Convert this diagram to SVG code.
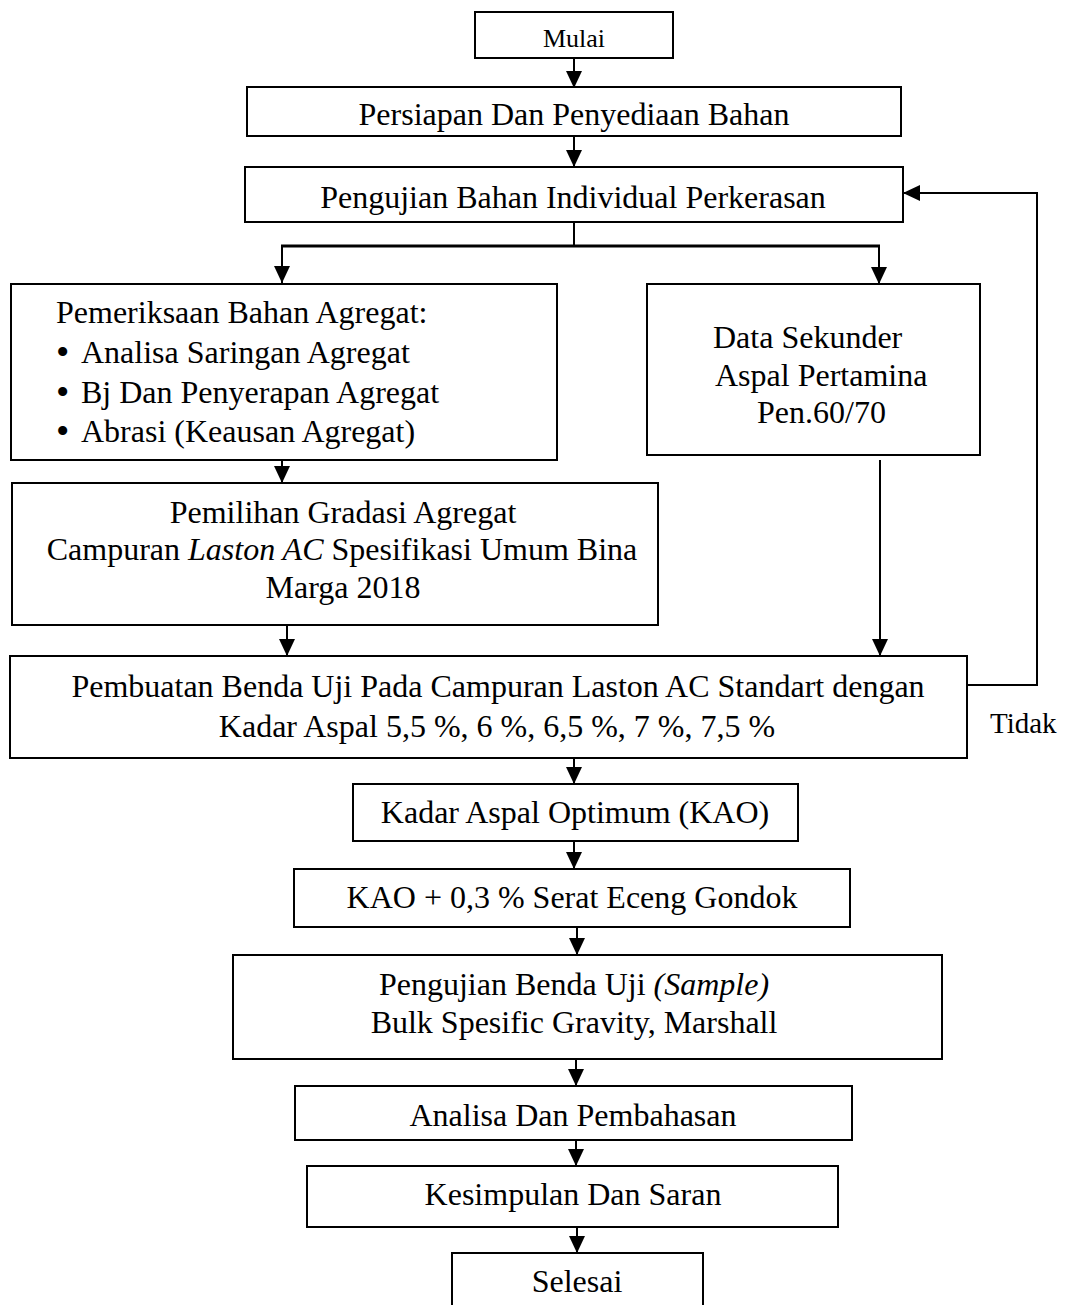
<svg xmlns="http://www.w3.org/2000/svg" width="1065" height="1305" viewBox="0 0 1065 1305">
<defs>
<marker id="ah" markerUnits="userSpaceOnUse" markerWidth="18" markerHeight="16" refX="17" refY="8" orient="auto">
<path d="M0,0 L17,8 L0,16 z" fill="#000"/>
</marker>
<style>
.box{fill:#fff;stroke:#000;stroke-width:2}
.t{font-family:"Liberation Serif","Times New Roman",serif;font-size:32px;fill:#000}
.c{text-anchor:middle}
.b{font-size:38px}
.ln{fill:none;stroke:#000;stroke-width:2}
.arr{fill:none;stroke:#000;stroke-width:2;marker-end:url(#ah)}
</style>
</defs>
<rect width="1065" height="1305" fill="#fff"/>

<g id="connectors">
<line class="arr" x1="574" y1="58" x2="574" y2="88"/>
<line class="arr" x1="574" y1="136" x2="574" y2="167"/>
<line class="ln" x1="574" y1="222" x2="574" y2="246"/>
<line class="ln" x1="281" y1="246" x2="880" y2="246" style="stroke-width:3"/>
<line class="arr" x1="282" y1="246" x2="282" y2="283"/>
<line class="arr" x1="879" y1="246" x2="879" y2="284"/>
<line class="arr" x1="282" y1="460" x2="282" y2="483"/>
<line class="arr" x1="880" y1="460" x2="880" y2="656"/>
<line class="arr" x1="287" y1="625" x2="287" y2="656"/>
<polyline class="arr" points="967,685 1037,685 1037,193 903,193"/>
<line class="arr" x1="574" y1="758" x2="574" y2="784"/>
<line class="arr" x1="574" y1="841" x2="574" y2="869"/>
<line class="arr" x1="577" y1="927" x2="577" y2="955"/>
<line class="arr" x1="576" y1="1059" x2="576" y2="1086"/>
<line class="arr" x1="576" y1="1140" x2="576" y2="1166"/>
<line class="arr" x1="577" y1="1227" x2="577" y2="1253"/>
</g>

<g id="mulai">
<rect class="box" x="475" y="12" width="198" height="46"/>
<text class="t c" x="574" y="47" style="font-size:26px">Mulai</text>
</g>

<g id="persiapan">
<rect class="box" x="247" y="87" width="654" height="49"/>
<text class="t c" x="574" y="125">Persiapan Dan Penyediaan Bahan</text>
</g>

<g id="pengujian-bahan">
<rect class="box" x="245" y="167" width="658" height="55"/>
<text class="t c" x="573" y="208">Pengujian Bahan Individual Perkerasan</text>
</g>

<g id="pemeriksaan">
<rect class="box" x="11" y="284" width="546" height="176"/>
<text class="t" x="56" y="323">Pemeriksaan Bahan Agregat:</text>
<text class="t b" x="56" y="365">•</text>
<text class="t" x="81" y="363">Analisa Saringan Agregat</text>
<text class="t b" x="56" y="405">•</text>
<text class="t" x="81" y="403">Bj Dan Penyerapan Agregat</text>
<text class="t b" x="56" y="444">•</text>
<text class="t" x="81" y="442">Abrasi (Keausan Agregat)</text>
</g>

<g id="data-sekunder">
<rect class="box" x="647" y="284" width="333" height="171"/>
<text class="t" x="713" y="348">Data Sekunder</text>
<text class="t" x="715" y="386">Aspal Pertamina</text>
<text class="t" x="757" y="423">Pen.60/70</text>
</g>

<g id="pemilihan">
<rect class="box" x="12" y="483" width="646" height="142"/>
<text class="t c" x="343" y="523">Pemilihan Gradasi Agregat</text>
<text class="t c" x="342" y="560">Campuran <tspan font-style="italic">Laston AC</tspan> Spesifikasi Umum Bina</text>
<text class="t c" x="343" y="598">Marga 2018</text>
</g>

<g id="pembuatan">
<rect class="box" x="10" y="656" width="957" height="102"/>
<text class="t c" x="498" y="697">Pembuatan Benda Uji Pada Campuran Laston AC Standart dengan</text>
<text class="t c" x="497" y="737">Kadar Aspal 5,5 %, 6 %, 6,5 %, 7 %, 7,5 %</text>
</g>

<g id="tidak">
<text class="t" x="990" y="733" style="font-size:29px">Tidak</text>
</g>

<g id="kao">
<rect class="box" x="353" y="784" width="445" height="57"/>
<text class="t c" x="575" y="823">Kadar Aspal Optimum (KAO)</text>
</g>

<g id="kao-serat">
<rect class="box" x="294" y="869" width="556" height="58"/>
<text class="t c" x="572" y="908">KAO + 0,3 % Serat Eceng Gondok</text>
</g>

<g id="pengujian-benda">
<rect class="box" x="233" y="955" width="709" height="104"/>
<text class="t c" x="574" y="995">Pengujian Benda Uji <tspan font-style="italic">(Sample)</tspan></text>
<text class="t c" x="574" y="1033">Bulk Spesific Gravity, Marshall</text>
</g>

<g id="analisa">
<rect class="box" x="295" y="1086" width="557" height="54"/>
<text class="t c" x="573" y="1126">Analisa Dan Pembahasan</text>
</g>

<g id="kesimpulan">
<rect class="box" x="307" y="1166" width="531" height="61"/>
<text class="t c" x="573" y="1205">Kesimpulan Dan Saran</text>
</g>

<g id="selesai">
<rect class="box" x="452" y="1253" width="251" height="70"/>
<text class="t c" x="577" y="1292">Selesai</text>
</g>
</svg>
